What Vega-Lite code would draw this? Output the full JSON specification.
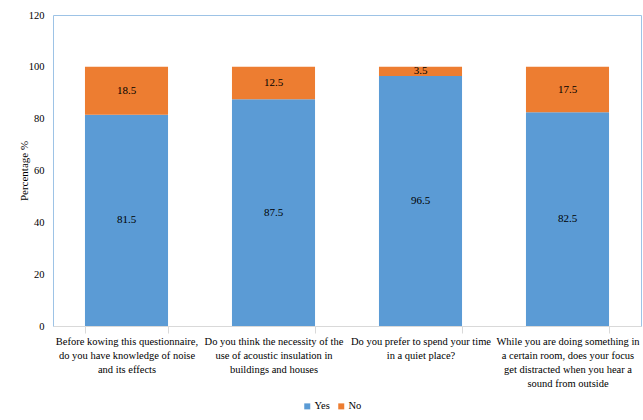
{
  "$schema": "https://vega.github.io/schema/vega-lite/v6.json",
  "width": 588,
  "height": 311,
  "autosize": {"type": "none"},
  "padding": {"left": 53, "top": 15, "right": 2, "bottom": 94},
  "background": "white",
  "config": {
    "font": "Liberation Serif",
    "view": {"stroke": "#9dc3e6", "strokeWidth": 1},
    "axis": {"labelFont": "Liberation Serif", "titleFont": "Liberation Serif", "labelColor": "#000000", "titleColor": "#000000"},
    "legend": {"labelFont": "Liberation Serif"}
  },
  "data": {
    "values": [
      {"question": "Before kowing this questionnaire,|do you have knowledge of noise|and its effects", "qorder": 1, "answer": "Yes", "aorder": 1, "value": 81.5},
      {"question": "Before kowing this questionnaire,|do you have knowledge of noise|and its effects", "qorder": 1, "answer": "No", "aorder": 2, "value": 18.5},
      {"question": "Do you think the necessity of the|use of acoustic insulation in|buildings and houses", "qorder": 2, "answer": "Yes", "aorder": 1, "value": 87.5},
      {"question": "Do you think the necessity of the|use of acoustic insulation in|buildings and houses", "qorder": 2, "answer": "No", "aorder": 2, "value": 12.5},
      {"question": "Do you prefer to spend your time|in a quiet place?", "qorder": 3, "answer": "Yes", "aorder": 1, "value": 96.5},
      {"question": "Do you prefer to spend your time|in a quiet place?", "qorder": 3, "answer": "No", "aorder": 2, "value": 3.5},
      {"question": "While you are doing something in|a certain room, does your focus|get distracted when you hear a|sound from outside", "qorder": 4, "answer": "Yes", "aorder": 1, "value": 82.5},
      {"question": "While you are doing something in|a certain room, does your focus|get distracted when you hear a|sound from outside", "qorder": 4, "answer": "No", "aorder": 2, "value": 17.5}
    ]
  },
  "encoding": {
    "x": {
      "field": "question",
      "type": "nominal",
      "sort": {"field": "qorder"},
      "scale": {"paddingInner": 0.435, "paddingOuter": 0.2175},
      "axis": {
        "title": null,
        "labelAngle": 0,
        "labelExpr": "split(datum.label, '|')",
        "labelFontSize": 10.5,
        "labelLineHeight": 14,
        "labelPadding": 3,
        "labelBaseline": "top",
        "tickBand": "extent",
        "tickSize": 7,
        "tickColor": "#d9d9d9",
        "domainColor": "#d9d9d9"
      }
    },
    "y": {
      "field": "value",
      "type": "quantitative",
      "stack": "zero",
      "scale": {"domain": [0, 120]},
      "axis": {
        "title": "Percentage %",
        "titleFontSize": 11,
        "titleFontWeight": "normal",
        "titlePadding": -1,
        "values": [0, 20, 40, 60, 80, 100, 120],
        "grid": false,
        "domain": false,
        "ticks": false,
        "labelFontSize": 10.5,
        "labelPadding": 9
      }
    },
    "order": {"field": "aorder"}
  },
  "layer": [
    {
      "mark": {"type": "bar"},
      "encoding": {
        "color": {
          "field": "answer",
          "type": "nominal",
          "scale": {"domain": ["Yes", "No"], "range": ["#5b9bd5", "#ed7d31"]},
          "legend": {
            "title": null,
            "orient": "none",
            "legendX": 249,
            "legendY": 386,
            "direction": "horizontal",
            "symbolType": "square",
            "symbolSize": 36,
            "symbolStrokeWidth": 0,
            "labelFont": "Liberation Serif",
            "labelFontSize": 10.5,
            "labelColor": "#000000",
            "labelOffset": 2,
            "columnPadding": 6
          }
        }
      }
    },
    {
      "mark": {"type": "text", "font": "Liberation Serif", "fontSize": 11, "color": "#000000"},
      "encoding": {
        "y": {"field": "value", "type": "quantitative", "stack": "zero", "bandPosition": 0.5},
        "text": {"field": "value", "type": "quantitative", "format": ".1f"}
      }
    }
  ]
}
